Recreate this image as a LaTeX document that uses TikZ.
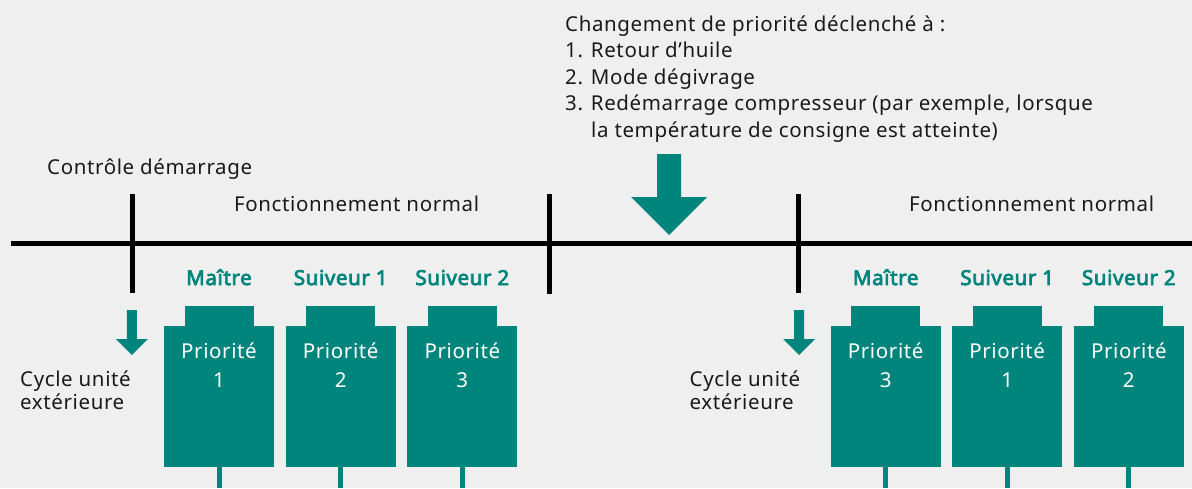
\documentclass[tikz,border=0pt]{standalone}
\usepackage{fontspec}
\setmainfont{Noto Sans}[AutoFakeBold=3.5, LetterSpace=3]
\definecolor{boschteal}{HTML}{00857D}
\definecolor{bggray}{HTML}{EFEFEF}
\definecolor{txtdark}{HTML}{1A1A1A}
\tikzset{
  txt/.style={font=\fontsize{20.5}{24}\selectfont, text=txtdark, inner sep=0pt, anchor=base west},
  rolelbl/.style={font=\bfseries\fontsize{20.5}{24}\selectfont, text=boschteal, inner sep=0pt, anchor=base},
  unitbody/.style={fill=boschteal, minimum width=110pt, minimum height=141pt, inner sep=0pt, anchor=north},
  unittab/.style={fill=boschteal, minimum width=69pt, minimum height=19.5pt, inner sep=0pt, anchor=south},
  prio/.style={font=\fontsize{20.5}{24}\selectfont, text=white, inner sep=0pt, anchor=base},
  tickline/.style={line width=5pt, draw=black},
  timeline/.style={line width=5pt, draw=black},
  stemline/.style={line width=5pt, draw=boschteal},
  arrowfill/.style={fill=boschteal},
}
\begin{document}
\begin{tikzpicture}[x=1pt,y=-1pt]
\useasboundingbox (0,0) rectangle (1192,488);
\fill[bggray] (0,0) rectangle (1192,488);

% heading text
\node[txt] (h1) at (565,31) {Changement de priorité déclenché à :};
\node[txt] (h2) at (565,57.6) {1. Retour d’huile};
\node[txt] (h3) at (565,84.2) {2. Mode dégivrage};
\node[txt] (h4) at (565,110.8) {3. Redémarrage compresseur (par exemple, lorsque};
\node[txt] (h5) at (591,137.4) {la température de consigne est atteinte)};

\node[txt] (ctrl) at (47,174) {Contrôle démarrage};
\node[txt] (fn1) at (234,211) {Fonctionnement normal};
\node[txt] (fn2) at (909,211) {Fonctionnement normal};

% timeline
\coordinate (tlA) at (11,243);
\coordinate (tlB) at (1192,243);
\draw[timeline] (tlA) -- (tlB);

% ticks
\coordinate (t1a) at (132,194); \coordinate (t1b) at (132,292.5);
\coordinate (t2a) at (549.5,194); \coordinate (t2b) at (549.5,294);
\coordinate (t3a) at (798.5,194); \coordinate (t3b) at (798.5,292.5);
\draw[tickline] (t1a) -- (t1b);
\draw[tickline] (t2a) -- (t2b);
\draw[tickline] (t3a) -- (t3b);

% big arrow
\fill[arrowfill] (657,154) -- (681,154) -- (681,197) -- (707,197) -- (669,235) -- (631,197) -- (657,197) -- cycle;

% small arrows
\foreach \cx in {131.8,799} {
  \fill[arrowfill] (\cx-5,310) -- (\cx+5,310) -- (\cx+5,339) -- (\cx+16,339) -- (\cx,355) -- (\cx-16,339) -- (\cx-5,339) -- cycle;
}

\node[txt] (cyc1a) at (20,386) {Cycle unité};
\node[txt] (cyc1b) at (20,409) {extérieure};
\node[txt] (cyc2a) at (689.5,386) {Cycle unité};
\node[txt] (cyc2b) at (689.5,409) {extérieure};

% units
\foreach \name/\cx/\role/\num in {u1/219/Maître/1, u2/340.7/Suiveur 1/2, u3/462.3/Suiveur 2/3, u4/885.7/Maître/3, u5/1007.2/Suiveur 1/1, u6/1128.8/Suiveur 2/2} {
  \node[unitbody] (\name) at (\cx,325.7) {};
  \node[unittab] (\name tab) at (\name.north) {};
  \node[rolelbl] (\name role) at (\cx,285) {\role};
  \node[prio] (\name p) at (\cx,358) {Priorité};
  \node[prio] (\name n) at (\cx,387) {\num};
  \coordinate (\name end) at (\cx,488);
  \draw[stemline] (\name.south) -- (\name end);
}
\end{tikzpicture}
\end{document}
